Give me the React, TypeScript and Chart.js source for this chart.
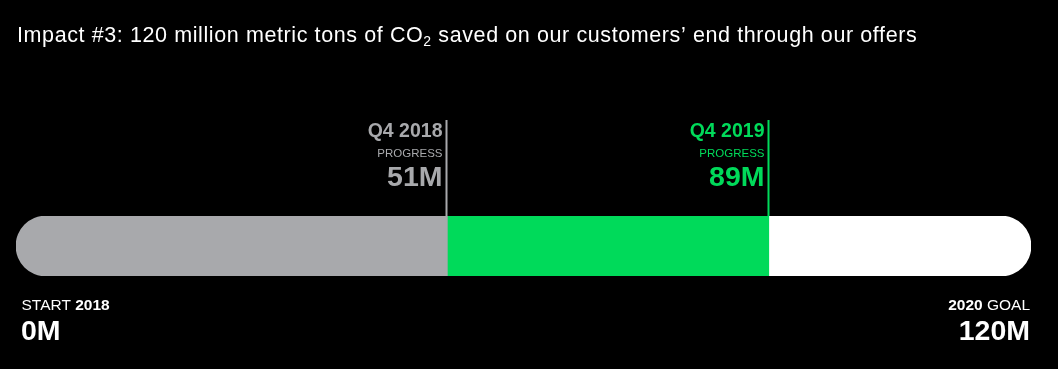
import React, { useEffect, useRef } from "react";
import { Chart, registerables } from "chart.js";

Chart.register(...registerables);

// ---- data ----
const categories = ["CO₂ saved (million metric tons)"];
const segmentNames = ["Q4 2018 progress", "Q4 2019 progress", "Remaining to 2020 goal"];
const segmentStarts = [0, 51, 89];
const segmentEnds = [51, 89, 120];
const markerValues = [51, 89];
const markerPeriods = ["Q4 2018", "Q4 2019"];
const markerCaption = "PROGRESS";
const startValue = 0;
const startYear = "2018";
const goalValue = 120;
const goalYear = "2020";
const titleParts = ["Impact #3: 120 million metric tons of CO", "2", " saved on our customers’ end through our offers"];

// ---- styles ----
const GRAY = "#a8a9ac";
const GREEN = "#00da5a";
const WHITE = "#ffffff";
const segmentColors = [GRAY, GREEN, WHITE];
const markerColors = [GRAY, GREEN];
const FONT = "'Liberation Sans', Arial, Helvetica, sans-serif";

const textPlugin = {
  id: "infographicText",
  afterDraw(chart: any) {
    const ctx = chart.ctx as CanvasRenderingContext2D;
    const x = chart.scales.x;
    const area = chart.chartArea;
    ctx.save();
    ctx.textBaseline = "alphabetic";

    // title with subscript
    ctx.fillStyle = WHITE;
    ctx.textAlign = "left";
    (ctx as any).letterSpacing = "0.6px";
    let tx = 17;
    const ty = 41.5;
    ctx.font = `21.5px ${FONT}`;
    ctx.fillText(titleParts[0], tx, ty);
    tx += ctx.measureText(titleParts[0]).width;
    ctx.font = `14px ${FONT}`;
    ctx.fillText(titleParts[1], tx, ty + 4);
    tx += ctx.measureText(titleParts[1]).width;
    ctx.font = `21.5px ${FONT}`;
    ctx.fillText(titleParts[2], tx, ty);
    (ctx as any).letterSpacing = "0px";

    // markers
    markerValues.forEach((v, i) => {
      const px = Math.round(x.getPixelForValue(v)) - 0.5;
      ctx.strokeStyle = markerColors[i];
      ctx.lineWidth = 2;
      ctx.beginPath();
      ctx.moveTo(px, 120);
      ctx.lineTo(px, area.top);
      ctx.stroke();
      ctx.fillStyle = markerColors[i];
      ctx.textAlign = "right";
      const rx = px - 4;
      ctx.font = `bold 19.5px ${FONT}`;
      ctx.fillText(markerPeriods[i], rx, 137);
      ctx.font = `11.5px ${FONT}`;
      ctx.fillText(markerCaption, rx, 156.5);
      ctx.font = `bold 28.5px ${FONT}`;
      ctx.fillText(`${v}M`, rx, 186);
    });

    // start label
    ctx.fillStyle = WHITE;
    ctx.textAlign = "left";
    const sx = 21.5;
    ctx.font = `15.5px ${FONT}`;
    const startWord = "START ";
    ctx.fillText(startWord, sx, 310);
    const sw = ctx.measureText(startWord).width;
    ctx.font = `bold 15.5px ${FONT}`;
    ctx.fillText(startYear, sx + sw, 310);
    ctx.font = `bold 28.5px ${FONT}`;
    ctx.fillText(`${startValue}M`, 21, 340);

    // goal label
    ctx.textAlign = "right";
    const gx = 1030;
    ctx.font = `15.5px ${FONT}`;
    const goalWord = " GOAL";
    const gw = ctx.measureText(goalWord).width;
    ctx.fillText(goalWord, gx, 310);
    ctx.font = `bold 15.5px ${FONT}`;
    ctx.fillText(goalYear, gx - gw, 310);
    ctx.font = `bold 28.5px ${FONT}`;
    ctx.fillText(`${goalValue}M`, gx, 340);

    ctx.restore();
  },
};

export default function App() {
  const ref = useRef<HTMLCanvasElement | null>(null);

  useEffect(() => {
    document.body.style.margin = "0";
    document.body.style.background = "#000";
    document.body.style.overflow = "hidden";
    const canvas = ref.current;
    if (!canvas) return;
    const datasets = segmentNames.map((name, i) => ({
      label: name,
      data: [[segmentStarts[i], segmentEnds[i]]],
      backgroundColor: segmentColors[i],
      borderWidth: 0,
      borderSkipped: false,
      grouped: false,
      barPercentage: 1,
      categoryPercentage: 1,
      borderRadius:
        i === 0
          ? { topLeft: 30, bottomLeft: 30, topRight: 0, bottomRight: 0 }
          : i === segmentNames.length - 1
          ? { topLeft: 0, bottomLeft: 0, topRight: 30, bottomRight: 30 }
          : 0,
    }));
    const chart = new Chart(canvas, {
      type: "bar",
      data: { labels: categories, datasets: datasets as any },
      options: {
        indexAxis: "y",
        responsive: false,
        animation: false,
        devicePixelRatio: 1,
        layout: { padding: { left: 16, right: 27, top: 216, bottom: 93 } },
        scales: {
          x: { type: "linear", min: startValue, max: goalValue, display: false },
          y: { display: false },
        },
        plugins: {
          legend: { display: false },
          tooltip: { enabled: false },
          title: { display: false },
        },
      },
      plugins: [textPlugin],
    });
    return () => chart.destroy();
  }, []);

  return (
    <div style={{ position: "absolute", left: 0, top: 0, width: 1058, height: 369, background: "#000" }}>
      <canvas ref={ref} width={1058} height={369} />
    </div>
  );
}
